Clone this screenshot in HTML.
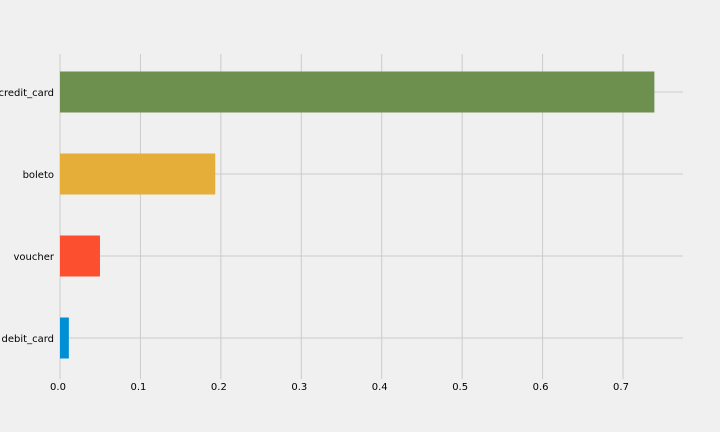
<!DOCTYPE html>
<html><head><meta charset="utf-8"><style>
html,body{margin:0;padding:0;background:#f0f0f0;}
svg{display:block;font-family:"DejaVu Sans","Liberation Sans",sans-serif;}
</style></head><body>
<svg id="chart" width="720" height="432"></svg>
<script>
const categories = ["credit_card", "boleto", "voucher", "debit_card"];
const values = [0.739, 0.193, 0.0497, 0.011];
const colors = ["#6d904f", "#e5ae38", "#fc4f30", "#008fd5"];
const xTicks = [0.0, 0.1, 0.2, 0.3, 0.4, 0.5, 0.6, 0.7];
const xTickLabels = ["0.0", "0.1", "0.2", "0.3", "0.4", "0.5", "0.6", "0.7"];

const NS = "http://www.w3.org/2000/svg";
const svg = document.getElementById("chart");
const L = 60, R = 683, T = 51, B = 379;
const xMax = (R - L) / 804.3;
function xScale(v){ return L + v / xMax * (R - L); }
const band = (B - T) / categories.length;
function yCenter(i){ return T + band * (i + 0.5); }
function mk(tag, attrs){ const e = document.createElementNS(NS, tag); for (const k in attrs) e.setAttribute(k, attrs[k]); svg.appendChild(e); return e; }

xTicks.forEach((t, i) => {
  const g = mk("line", {x1: xScale(t), x2: xScale(t), y1: 54, y2: B, stroke: "#cbcbcb", "stroke-width": 1});
  
  
  const tx = mk("text", {x: xScale(t) - 2, y: 390, "text-anchor": "middle", "font-size": 10, fill: "#000"});
  tx.textContent = xTickLabels[i];
  
  
});
categories.forEach((c, i) => {
  const g = mk("line", {x1: L, x2: R, y1: yCenter(i), y2: yCenter(i), stroke: "#cbcbcb", "stroke-width": 1});
  
  
});
categories.forEach((c, i) => {
  const h = band * 0.5;
  const r = mk("rect", {x: xScale(0), y: yCenter(i) - h / 2, width: xScale(values[i]) - xScale(0), height: h, fill: colors[i]});
  
  
  const tx = mk("text", {x: 54, y: yCenter(i) + 4, "text-anchor": "end", "font-size": 10, fill: "#000"});
  tx.textContent = c;
  
  
});
</script>
</body></html>
